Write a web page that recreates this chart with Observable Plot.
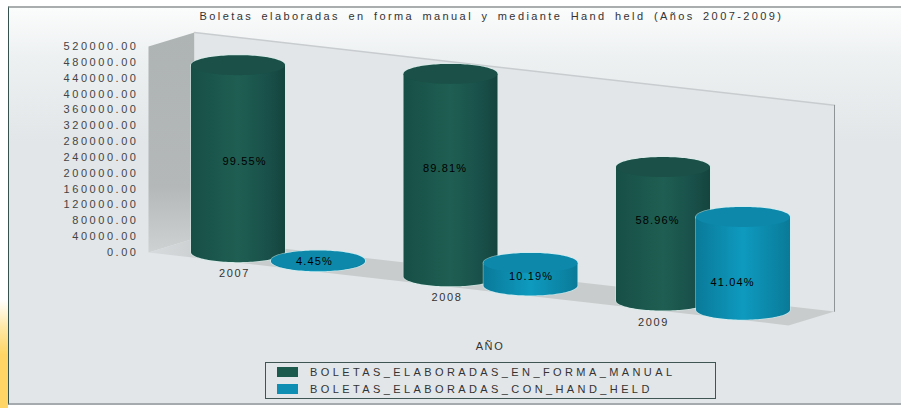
<!DOCTYPE html>
<html><head><meta charset="utf-8">
<script src="https://cdn.jsdelivr.net/npm/d3@7"></script>
<script src="https://cdn.jsdelivr.net/npm/@observablehq/plot@0.6"></script>
<style>
html,body{margin:0;padding:0;background:#fff;width:901px;height:408px;overflow:hidden}
#blob{position:absolute;left:0;top:300px;width:8px;height:108px;background:linear-gradient(180deg,#fff 0%,#ffe9a8 25%,#ffd666 50%,#ffd666 100%)}
#panel{position:absolute;left:8px;top:6px;width:893px;height:399px;box-sizing:border-box;border-left:1px solid #35524e;border-top:2px solid #a9adad;border-bottom:2px solid #a5aaae;background:linear-gradient(180deg,#fbfcfc 0%,#eef1f2 12%,#e2e6e8 34%,#e2e6e8 100%)}
#title{position:absolute;left:41px;width:901px;top:10px;text-align:center;font:11px "Liberation Sans",sans-serif;letter-spacing:2.4px;word-spacing:3px;color:#333;white-space:nowrap}
#chart{position:absolute;left:0;top:28px}
#legend{position:absolute;left:265px;top:362px;width:451px;height:37px;box-sizing:border-box;border:1px solid #3f5553;font:11px "Liberation Sans",sans-serif;letter-spacing:3.4px;color:#333}
.row{position:absolute;left:11px;white-space:nowrap;display:flex;align-items:center}
.sw{display:inline-block;width:21px;height:10px;margin-right:12px}
svg text{font-family:"Liberation Sans",sans-serif}
svg text{letter-spacing:2.55px}
.spaced text{letter-spacing:1.6px;fill:#333}
.share text{letter-spacing:1.15px;fill:#000}
</style></head>
<body>
<div id="blob"></div><div id="panel"></div>
<div id="title">Boletas elaboradas en forma manual y mediante Hand held (Años 2007-2009)</div>
<div id="chart"></div>
<div id="legend"></div>
<script>
// Data
const years = ["2007", "2008", "2009"];
const manual = [472000, 511000, 337000];
const handHeld = [2000, 57000, 234000];
const manualShare = ["99.55%", "89.81%", "58.96%"];
const handHeldShare = ["4.45%", "10.19%", "41.04%"];
const seriesNames = ["BOLETAS_ELABORADAS_EN_FORMA_MANUAL", "BOLETAS_ELABORADAS_CON_HAND_HELD"];
const yTicks = d3.range(0, 520001, 40000);
const xTitle = "AÑO";

// Pseudo-3D construction, in data units (x: category steps, y: axis values)
const vPerPx = 40000 / 15.85, uPerPx = 1 / 212.5;
const u0 = -90 * uPerPx, uEnd = 550 * uPerPx;      // wall corner, right end of the floor front
const depthU = 46 * uPerPx, depthV = 14 * vPerPx;  // offset from front to back of the floor
const slope = 24.2 * vPerPx;                       // value drop per category step
const topV = 520000, cylDepth = 0.72;
const rx = 47 * uPerPx, ry = 10 * vPerPx;
const seriesShift = 80 * uPerPx;
const base = (u, d) => -slope * (u - u0) + d * depthV;
const P = (u, v, d) => ({x: u + d * depthU, y: v + base(u, d)});

const leftWall = [P(u0,0,0), P(u0,topV,0), P(u0,topV,1), P(u0,0,1)];
const backWall = [P(u0,0,1), P(u0,topV,1), P(uEnd,topV,1), P(uEnd,0,1)];
const floor = [P(u0,0,0), P(u0,0,1), P(uEnd,0,1), P(uEnd,0,0)];

const thetas = d3.range(0, 61).map(i => Math.PI - i * Math.PI / 60);
function cylinder(c, value) {
  const b = base(c, cylDepth);
  return {
    body: thetas.map(t => ({x: c + rx * Math.cos(t), lo: b - ry * Math.sin(t), hi: b + value})),
    cap: thetas.map(t => ({x: c + rx * Math.cos(t), lo: b + value - ry * Math.sin(t), hi: b + value + ry * Math.sin(t)}))
  };
}
const cylMarks = (c, value, grad, capFill) => {
  const s = cylinder(c, value);
  const halo = grad === "blue" ? "#bdf0f7" : "#cdeee8";
  return [
    Plot.area(s.body, {x1: "x", y1: "lo", y2: "hi", fill: "none", stroke: halo, strokeWidth: 1.5, strokeOpacity: 0.6}),
    Plot.area(s.cap, {x1: "x", y1: "lo", y2: "hi", fill: "none", stroke: halo, strokeWidth: 1.5, strokeOpacity: 0.6}),
    Plot.area(s.body, {x1: "x", y1: "lo", y2: "hi", fill: `url(#${grad})`}),
    Plot.area(s.cap, {x1: "x", y1: "lo", y2: "hi", fill: capFill})
  ];
};

const defs = () => {
  const d = d3.create("svg:defs");
  const lin = (id, stops, vertical) => {
    const g = d.append("linearGradient").attr("id", id).attr("x1", 0).attr("y1", 0).attr("x2", vertical ? 0 : 1).attr("y2", vertical ? 1 : 0);
    stops.forEach(([o, c]) => g.append("stop").attr("offset", o).attr("stop-color", c));
  };
  lin("green", [[0, "#174f46"], [0.5, "#1f5e52"], [0.8, "#19514a"], [1, "#15443e"]]);
  lin("blue", [[0, "#0a7a99"], [0.5, "#0e9abf"], [1, "#0a7a98"]]);
  lin("leftwall", [[0, "#aeb3b4"], [0.7, "#b4b8b9"], [1, "#cfd2d3"]], true);
  lin("floor", [[0, "#d8dbdd"], [0.1, "#c9cccd"], [1, "#c9cccd"]]);
  return d.node();
};

const marks = [
  defs,
  Plot.line(leftWall, {x: "x", y: "y", fill: "url(#leftwall)", stroke: "none"}),
  Plot.line(backWall, {x: "x", y: "y", fill: "#e2e6e8", stroke: "none"}),
  Plot.line(backWall.slice(1, 3), {x: "x", y: "y", stroke: "#c8cccf", strokeWidth: 1.5}),
  Plot.line(backWall.slice(2, 4), {x: "x", y: "y", stroke: "#8f9496", strokeWidth: 1}),
  Plot.line(floor, {x: "x", y: "y", fill: "url(#floor)", stroke: "none"}),
  Plot.axisY({ticks: yTicks, tickFormat: d => d.toFixed(2), tickSize: 0, tickPadding: -2, label: null, fontSize: 11, color: "#444"})
];
years.forEach((yr, i) => {
  marks.push(...cylMarks(i, manual[i], "green", "#1a5047"));
  marks.push(...cylMarks(i + seriesShift, handHeld[i], "blue", "#0d88aa"));
});
const shareLabels = [
  ...manualShare.map((t, i) => ({t, x: i + [6, -6, -6][i] * uPerPx, y: base(i, cylDepth) + manual[i] * [0.485, 0.535, 0.6][i]})),
  ...handHeldShare.map((t, i) => ({t, x: i + seriesShift + [-4, 0, -11][i] * uPerPx, y: base(i + seriesShift, cylDepth) + handHeld[i] * [0.5, 0.4, 0.3][i]}))
];
// className is a mark option, used here so the stylesheet can space each text group
marks.push(Plot.text(shareLabels, {x: "x", y: "y", text: "t", fontSize: 11, className: "share"}));
marks.push(Plot.text(years, {x: (d, i) => i - (i == 2 ? 10 : 4) * uPerPx, y: (d, i) => base(i, cylDepth) - 21 * vPerPx, text: d => d, fontSize: 11, className: "spaced"}));
marks.push(Plot.text([xTitle], {x: () => 1 + 39 * uPerPx, y: () => -94 * vPerPx, text: d => d, fontSize: 11, className: "spaced"}));

const chart = Plot.plot({
  width: 901, height: 330,
  marginLeft: 136, marginRight: 0, marginTop: 0, marginBottom: 0,
  style: {background: "transparent", overflow: "visible", color: "#333"},
  x: {type: "linear", domain: [(136 - 238) * uPerPx, (901 - 238) * uPerPx], axis: null},
  y: {type: "linear", domain: [(252 - 358) * vPerPx, (252 - 28) * vPerPx], axis: null},
  marks
});
document.getElementById("chart").append(chart);

const colors = ["#1c5a4e", "#0d8eb2"];
const legend = document.getElementById("legend");
seriesNames.forEach((name, i) => {
  const r = document.createElement("div");
  r.className = "row"; r.style.top = (3 + i * 17) + "px";
  r.innerHTML = `<span class="sw" style="background:${colors[i]}"></span><span>${name}</span>`;
  legend.append(r);
});
</script>
</body></html>
